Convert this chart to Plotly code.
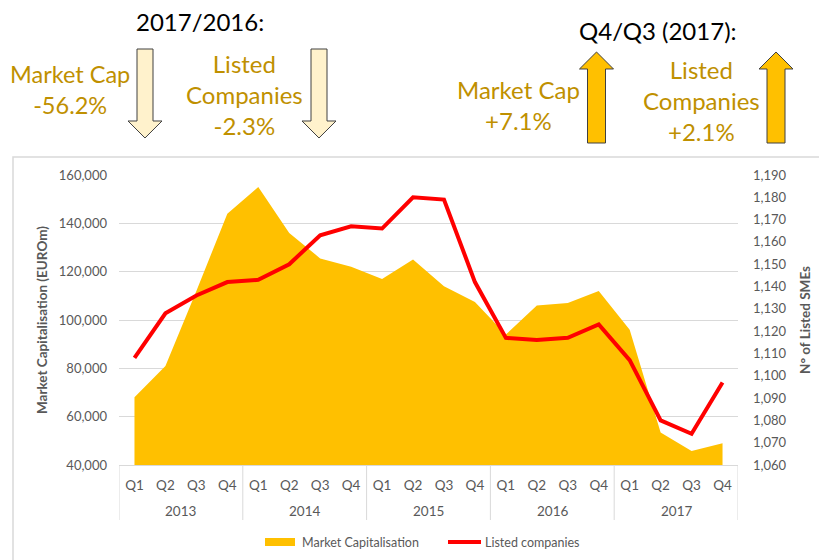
import plotly.graph_objects as go

years = ["2013", "2014", "2015", "2016", "2017"]
quarters = ["Q1", "Q2", "Q3", "Q4"]
market_cap = [68000, 81000, 112000, 144000,
              155000, 136000, 125500, 122000,
              117000, 125000, 114000, 107500,
              94000, 106000, 107000, 112000,
              96000, 53500, 45800, 49000]
listed_companies = [1108, 1128, 1136, 1142,
                    1143, 1150, 1163, 1167,
                    1166, 1180, 1179, 1142,
                    1117, 1116, 1117, 1123,
                    1107, 1080, 1074, 1097]

x_cats = [f"{q} {y}" for y in years for q in quarters]
x_text = [q for _ in years for q in quarters]

# page body has an 8px margin; figure drawn in reference pixel coords
OFF = 8
W, H = 827 - OFF, 560 - OFF
L, R, T, B = 119, 738, 175, 465  # plot area in reference pixels


def px(x):
    return (x - L) / (R - L)


def py(y):
    return (B - y) / (B - T)


FONT = "Lato"
GOLD = "#BF9000"
GRAY = "#595959"
LINEGRAY = "#D9D9D9"

fig = go.Figure()
fig.add_trace(go.Scatter(
    x=x_cats, y=market_cap, name="Market Capitalisation",
    mode="lines", line=dict(width=0, color="#FFC000"),
    fill="tozeroy", fillcolor="#FFC000", yaxis="y"))
fig.add_trace(go.Scatter(
    x=x_cats, y=listed_companies, name="Listed companies",
    mode="lines", line=dict(width=4, color="#FF0000"), yaxis="y2"))

shapes = []
# chart frame
shapes.append(dict(type="rect", xref="paper", yref="paper",
                   x0=px(13), x1=px(826), y0=py(157), y1=py(620),
                   line=dict(color=LINEGRAY, width=1.5), layer="below"))

# year dividers below the axis
for k in range(len(years) + 1):
    shapes.append(dict(type="line", xref="x", yref="paper",
                       x0=-0.5 + 4 * k, x1=-0.5 + 4 * k,
                       y0=0, y1=py(520),
                       line=dict(color=LINEGRAY, width=1)))


def path(points):
    return "M" + " L".join(f"{px(a):.5f},{py(b):.5f}" for a, b in points) + " Z"


def down_arrow(cx):
    return [(cx - 8, 49), (cx + 8, 49), (cx + 8, 121), (cx + 17, 121),
            (cx, 138), (cx - 17, 121), (cx - 8, 121)]


def up_arrow(cx):
    return [(cx, 52), (cx + 17, 69), (cx + 9, 69), (cx + 9, 143),
            (cx - 9, 143), (cx - 9, 69), (cx - 17, 69)]


for cx in (145, 319):
    shapes.append(dict(type="path", xref="paper", yref="paper",
                       path=path(down_arrow(cx)), fillcolor="#FFF2CC",
                       line=dict(color="#404040", width=1)))
for cx in (596.5, 776):
    shapes.append(dict(type="path", xref="paper", yref="paper",
                       path=path(up_arrow(cx)), fillcolor="#FFC000",
                       line=dict(color="#404040", width=1)))

# custom legend
shapes.append(dict(type="rect", xref="paper", yref="paper",
                   x0=px(265), x1=px(295), y0=py(546), y1=py(538),
                   fillcolor="#FFC000", line=dict(width=0)))
shapes.append(dict(type="line", xref="paper", yref="paper",
                   x0=px(448), x1=px(481), y0=py(542), y1=py(542),
                   line=dict(color="#FF0000", width=4)))

annotations = []


def ann(text, x, y, size, color, xanchor="center"):
    annotations.append(dict(text=text, xref="paper", yref="paper",
                            x=px(x), y=py(y), xanchor=xanchor, yanchor="middle",
                            showarrow=False, align="center",
                            font=dict(family=FONT, size=size, color=color)))


ann("2017/2016:", 200, 22, 24, "black")
ann("Q4/Q3 (2017):", 658, 30, 24, "black")
ann("Market Cap<br>-56.2%", 70, 90, 23.5, GOLD)
ann("Listed<br>Companies<br>-2.3%", 244, 95, 24, GOLD)
ann("Market Cap<br>+7.1%", 518, 105, 24, GOLD)
ann("Listed<br>Companies<br>+2.1%", 701, 100, 24, GOLD)
ann("Market Capitalisation", 300, 542, 12.5, GRAY, "left")
ann("Listed companies", 483, 542, 12.5, GRAY, "left")

# year labels centred under each group of quarters
for i, yr in enumerate(years):
    annotations.append(dict(text=yr, xref="x", yref="paper",
                            x=4 * i + 1.5, y=py(511), xanchor="center",
                            yanchor="middle", showarrow=False,
                            font=dict(family=FONT, size=13.5, color=GRAY)))

fig.update_layout(
    width=W, height=H,
    margin=dict(l=L - OFF, r=W - (R - OFF), t=T - OFF, b=H - (B - OFF)),
    paper_bgcolor="white", plot_bgcolor="white",
    showlegend=False,
    font=dict(family=FONT, color=GRAY, size=13),
    shapes=shapes, annotations=annotations,
    xaxis=dict(type="category", showgrid=False, showline=True,
               automargin=False, range=[-0.5, len(x_cats) - 0.5],
               linecolor=LINEGRAY, linewidth=1,
               tickmode="array", tickvals=x_cats, ticktext=x_text,
               ticks="", ticklabelstandoff=8,
               tickfont=dict(size=13.5, color=GRAY)),
    yaxis=dict(range=[40000, 160000], dtick=20000, tickformat=",",
               automargin=False,
               showgrid=True, gridcolor=LINEGRAY, gridwidth=1,
               zeroline=False, showline=False,
               ticklabelstandoff=11,
               tickfont=dict(size=13, color=GRAY),
               title=dict(text="<b>Market Capitalisation (EUROm)</b>",
                          font=dict(size=13.5, color=GRAY), standoff=8)),
    yaxis2=dict(range=[1060, 1190], dtick=10, tickformat=",",
                automargin=False,
                overlaying="y", side="right", showgrid=False,
                zeroline=False, showline=False,
                ticklabelstandoff=14,
                tickfont=dict(size=13, color=GRAY),
                title=dict(text="<b>N° of Listed SMEs</b>",
                           font=dict(size=13.5, color=GRAY), standoff=14)),
)

fig.write_html("out.html")
